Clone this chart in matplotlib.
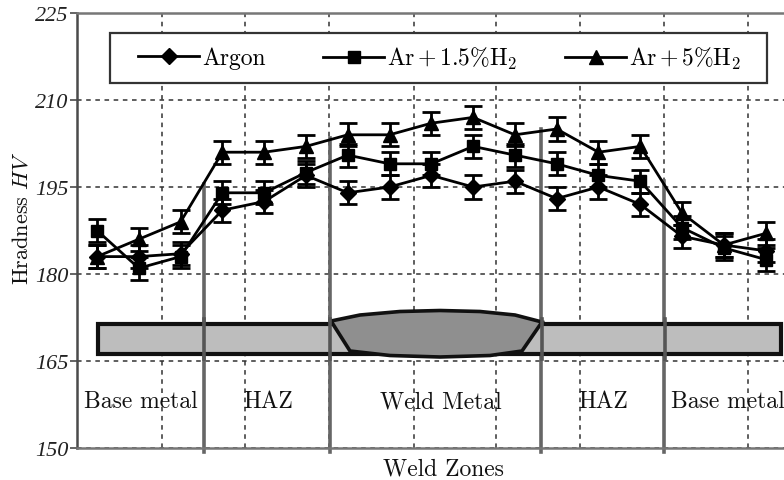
import matplotlib
matplotlib.use("Agg")
import matplotlib.pyplot as plt
from matplotlib.lines import Line2D
from matplotlib.patches import Rectangle, Polygon

plt.rcParams['font.family'] = ['cmr10', 'DejaVu Serif']
plt.rcParams['mathtext.fontset'] = 'cm'
plt.rcParams['axes.unicode_minus'] = False
plt.rcParams['axes.formatter.use_mathtext'] = True

positions = list(range(1, 18))
argon = [183, 183, 183.5, 191, 192.5, 197, 194, 195, 197, 195, 196, 193, 195, 192, 186.5, 185, 184]
ar_15 = [187.5, 181, 183, 194, 194, 197.5, 200.5, 199, 199, 202, 200.5, 199, 197, 196, 188, 184.5, 182.5]
ar_5 = [183, 186, 189, 201, 201, 202, 204, 204, 206, 207, 204, 205, 201, 202, 190.5, 185, 187]
err_all = 2
y_ticks = [150, 165, 180, 195, 210, 225]
grid_x = [2.55, 4.55, 6.56, 8.58, 10.54, 12.55, 14.58, 16.57]
zone_x = [3.56, 6.57, 11.63, 14.57]
zone_tops = [195.5, 203.5, 205, 196]
zone_names = ["Base metal", "HAZ", "Weld Metal", "HAZ", "Base metal"]
zone_name_x = [141, 268, 441, 603, 728]

W, H = 784, 481
fig = plt.figure(figsize=(W / 100, H / 100), dpi=100)
ax = fig.add_axes([77 / W, 1 - 449 / H, (W - 77) / W, (449 - 14) / H])
ax.set_xlim(0.52, 17.44)
ax.set_ylim(150, 225)

dark = '#4a4a4a'
for s in ['top', 'left', 'bottom']:
    ax.spines[s].set_color(dark)
    ax.spines[s].set_linewidth(1.8)
ax.spines['top'].set_color('#777777')
ax.spines['bottom'].set_color('#777777')
ax.spines['right'].set_visible(False)

ax.set_yticks(y_ticks)
ax.set_yticklabels([str(v) for v in y_ticks], family='Liberation Serif', style='italic',
                   fontsize=16, color='#222222')
ax.set_xticks(grid_x)
ax.tick_params(axis='x', length=0, labelbottom=False)
ax.tick_params(axis='y', length=5, width=1.2, color=dark, pad=1)
ax.grid(True, color='#333333', linestyle=(0, (3, 3)), linewidth=1.1)
ax.set_axisbelow(True)

# thick grey zone dividers, run a little past the axis
for x, top in zip(zone_x, zone_tops):
    ax.plot([x, x], [149.3, top], color='#666666', lw=2.6, clip_on=False, zorder=2)

series = [(argon, 'D', 8.5, 'Argon'),
          (ar_15, 's', 9, r'Ar$\,$+$\,$1.5%H$_2$'),
          (ar_5, '^', 10.5, r'Ar$\,$+$\,$5%H$_2$')]
handles = []
for vals, mk, ms, name in series:
    ax.errorbar(positions, vals, yerr=err_all, color='black', lw=2, marker=mk, ms=ms,
                capsize=6.5, capthick=2, elinewidth=2, zorder=4, clip_on=False)
    handles.append(Line2D([], [], color='black', lw=2, marker=mk, ms=ms, label=name))

# weld cross-section, legend box and text, drawn in pixel coordinates on an overlay
ov = fig.add_axes([0, 0, 1, 1], facecolor='none')
ov.set_xlim(0, W)
ov.set_ylim(H, 0)
ov.axis('off')

ov.add_patch(Rectangle((110, 34), 657, 50, fc='white', ec='#333333', lw=1.6, zorder=1))
# one legend per entry, the gaps between entries are not even in the original
for h, x in zip(handles, [138, 323, 565]):
    leg = ov.legend(handles=[h], loc='center left', bbox_to_anchor=(x, 59),
                    bbox_transform=ov.transData, frameon=False, fontsize=17,
                    handlelength=2.6, handletextpad=0.12,
                    borderpad=0, borderaxespad=0, numpoints=1)
    leg.set_zorder(5)
    ov.add_artist(leg)
ov.legend_ = None  # otherwise the last one is drawn twice

ov.add_patch(Rectangle((98, 325), 683, 30, fc='#bdbdbd', ec='#111111', lw=3, zorder=1))
weld = [(331, 322), (360, 316), (400, 312.5), (440, 311.5), (480, 312.5), (515, 316), (542, 323),
        (522, 352), (490, 356.5), (440, 358), (390, 356.5), (350, 352)]
ov.add_patch(Polygon(weld, closed=True, fc='#8f8f8f', ec='#111111', lw=2.6, zorder=2))
for x in [204.5, 330.5, 542, 665]:
    ov.plot([x, x], [320, 360], color='#555555', lw=2.6, zorder=3)

for x, name in zip(zone_name_x, zone_names):
    ov.text(x, 402, name, ha='center', va='center', fontsize=17, color='#111111', clip_on=False)
ov.text(443, 469, "Weld Zones", ha='center', va='center', fontsize=17, color='#111111')
ov.text(22, 218, r"Hradness $\mathit{HV}$", rotation=90, ha='center', va='center',
        fontsize=16, color='#111111')

fig.savefig("out.png", dpi=100)
